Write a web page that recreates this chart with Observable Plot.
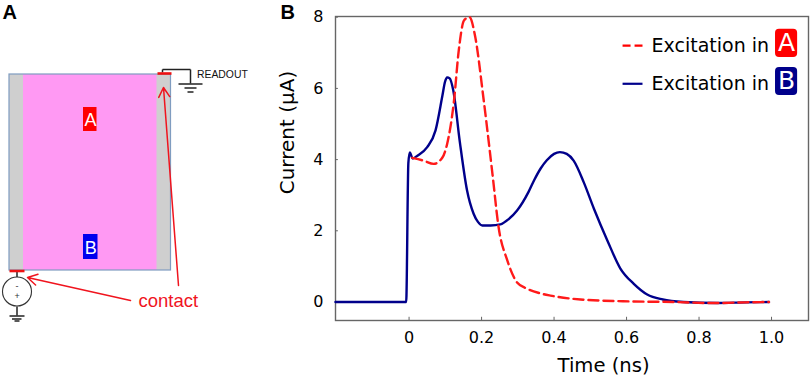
<!DOCTYPE html>
<html>
<head>
<meta charset="utf-8">
<script src="https://cdn.jsdelivr.net/npm/d3@7"></script>
<script src="https://cdn.jsdelivr.net/npm/@observablehq/plot@0.6"></script>
<style>
html,body{margin:0;padding:0;background:#fff}
#fig{position:relative;width:810px;height:376px;overflow:hidden}
#fig>div,#fig>svg{position:absolute;left:0;top:0}
</style>
</head>
<body>
<div id="fig"></div>
<script>
// Panel B series (time in ns, current in µA)
const timeB = [-0.203,-0.1,-0.008,-0.002,0.002,0.01,0.023,0.05,0.073,0.092,0.099,0.105,0.112,0.122,0.14,0.16,0.178,0.19,0.202,0.225,0.252,0.275,0.298,0.33,0.345,0.363,0.38,0.4,0.416,0.435,0.454,0.482,0.51,0.547,0.583,0.62,0.657,0.70,0.757,0.85,0.93,0.993];
const currentB = [0,0,0,3.9,4.2,4.03,4.11,4.35,4.82,5.8,6.18,6.31,6.28,5.94,4.5,3.13,2.48,2.25,2.15,2.15,2.18,2.33,2.57,3.1,3.42,3.75,3.98,4.16,4.21,4.16,3.97,3.36,2.62,1.73,0.94,0.51,0.21,0.07,0,-0.03,-0.01,0];
const timeA = [0.009,0.04,0.068,0.092,0.105,0.124,0.137,0.151,0.16,0.167,0.181,0.206,0.23,0.247,0.271,0.298,0.326,0.363,0.39,0.473,0.59,0.73,0.84,0.93,0.993];
const currentA = [4.05,3.97,3.88,4.06,4.44,5.66,7.06,7.9,7.98,8.0,7.53,5.66,3.6,2.1,1.17,0.55,0.37,0.24,0.18,0.07,0.02,0,-0.03,-0.01,0];
const xTicks = [0,0.2,0.4,0.6,0.8,1.0];
const yTicks = [0,2,4,6,8];
const legendLabels = ["Excitation in","Excitation in"];
const legendBadges = ["A","B"];
const seriesA = timeA.map((t,i)=>({t,v:currentA[i]}));
const seriesB = timeB.map((t,i)=>({t,v:currentB[i]}));

// Panel A schematic, in its own drawing units
const regionRects = [[9,170.5,74,270,"#ff99f3"],[9,23,74,270,"#cfcfcf"],[156.5,170.5,74,270,"#cfcfcf"]];
const badgeRects = [[83,96.5,107,131,"#ff0000","A",90,120],[83,97.5,234,259,"#0000ee","B",90.3,247.5]];
const wires = [[162,72,162,69],[162,69,190,69],[190,69,190,83],[178,83.5,202,83.5],[184,87.5,196,87.5],[187,91.5,193,91.5],
               [16.5,271,16.5,277],[16.5,306,16.5,315],[9,315.5,24,315.5],[11.5,318.5,21,318.5],[14,320.5,19,320.5]];
const contacts = [[9,24,270.5],[157,171,73]];
const arrows = [[178,285,163,87],[130,300,27,277]];

const FONT = "'DejaVu Sans', Verdana, sans-serif";
const SANS = "'Liberation Sans',Arial,sans-serif";
const fig = document.getElementById("fig");

const A = Plot.plot({
  width:270,height:376,margin:0,
  style:{background:"transparent",overflow:"visible"},
  x:{domain:[0,270],range:[0,270],axis:null},
  y:{domain:[0,376],range:[0,376],axis:null},
  marks:[
    Plot.rect(regionRects,{x1:d=>d[0],x2:d=>d[1],y1:d=>d[2],y2:d=>d[3],fill:d=>d[4]}),
    Plot.rect([regionRects[0]],{x1:d=>d[0],x2:d=>d[1],y1:d=>d[2],y2:d=>d[3],fill:"none",stroke:"#7f9cc0",strokeWidth:1.2}),
    Plot.rect(badgeRects,{x1:d=>d[0],x2:d=>d[1],y1:d=>d[2],y2:d=>d[3],fill:d=>d[4]}),
    Plot.text(badgeRects,{x:d=>d[6],y:d=>d[7],text:d=>d[5],fill:"white",fontSize:18,fontFamily:SANS}),
    Plot.link(wires,{x1:d=>d[0],y1:d=>d[1],x2:d=>d[2],y2:d=>d[3],stroke:"#222",strokeWidth:1.5}),
    Plot.dot([[16.5,291]],{x:d=>d[0],y:d=>d[1],r:14.5,stroke:"#333",fill:"white",strokeWidth:1.1}),
    Plot.text([[16.5,286,"-"],[16.5,296,"+"]],{x:d=>d[0],y:d=>d[1],text:d=>d[2],fontSize:9,fill:"#333",fontFamily:SANS}),
    Plot.link(contacts,{x1:d=>d[0],x2:d=>d[1],y1:d=>d[2],y2:d=>d[2],stroke:"#ee1111",strokeWidth:2.6}),
    Plot.arrow(arrows,{x1:d=>d[0],y1:d=>d[1],x2:d=>d[2],y2:d=>d[3],stroke:"#f0141e",strokeWidth:1.5,headLength:11,bend:0}),
    Plot.text([[196.5,74.5,"READOUT"]],{x:d=>d[0],y:d=>d[1],text:d=>d[2],textAnchor:"start",fontSize:10.4,fill:"#111",fontFamily:SANS}),
    Plot.text([[138,301,"contact"]],{x:d=>d[0],y:d=>d[1],text:d=>d[2],textAnchor:"start",fontSize:18.5,fill:"#f0141e",fontFamily:SANS}),
    Plot.text([[2,12,"A"]],{x:d=>d[0],y:d=>d[1],text:d=>d[2],textAnchor:"start",fontSize:20,fontWeight:"bold",fill:"#000",fontFamily:SANS})
  ]
});

const legendRows = legendLabels.map((label,i)=>({label,badge:legendBadges[i],y:[7.2,6.13][i],y1:[7.66,6.59][i],y2:[6.87,5.8][i],color:["#ff0000","#00008b"][i]}));

const B = Plot.plot({
  width:810,height:376,marginLeft:335,marginRight:2,marginTop:16,marginBottom:56,
  style:{background:"transparent",overflow:"visible",fontFamily:FONT,color:"#000"},
  x:{domain:[-0.203,1.102]},
  y:{domain:[-0.52,8.02]},
  marks:[
    Plot.frame({stroke:"#666",strokeWidth:1.4}),
    Plot.ruleX(xTicks,{y1:-0.52,y2:-0.43,stroke:"#666",strokeWidth:1}),
    Plot.ruleY(yTicks,{x1:-0.203,x2:-0.195,stroke:"#666",strokeWidth:1}),
    Plot.axisX({ticks:xTicks,tickSize:0,tickPadding:11,tickFormat:d=>d===0?"0":d.toFixed(1),fontSize:16,label:null,fontFamily:FONT}),
    Plot.axisY({ticks:yTicks,tickSize:0,tickPadding:12,fontSize:16,label:null,fontFamily:FONT}),
    Plot.line(seriesB,{x:"t",y:"v",stroke:"#00008b",strokeWidth:2.4,curve:"monotone-x"}),
    Plot.line(seriesA,{x:"t",y:"v",stroke:"#ff1a1a",strokeWidth:2.4,strokeDasharray:"10,5",curve:"monotone-x"}),
    Plot.text(["Time (ns)"],{x:0.5366,y:-1.79,text:d=>d,fontSize:19.6,fontFamily:FONT,fill:"#000"}),
    Plot.text(["Current (µA)"],{x:-0.335,y:4.76,text:d=>d,rotate:-90,fontSize:20,fontFamily:FONT,fill:"#000"}),
    Plot.link(legendRows.slice(0,1),{x1:0.589,x2:0.644,y1:"y",y2:"y",stroke:"color",strokeWidth:2.2,strokeDasharray:"8,4"}),
    Plot.link(legendRows.slice(1),{x1:0.589,x2:0.644,y1:"y",y2:"y",stroke:"color",strokeWidth:2.2}),
    Plot.text(legendRows,{x:0.669,y:"y",text:"label",textAnchor:"start",fontSize:19,fontFamily:FONT,fill:"#000"}),
    Plot.rect(legendRows,{x1:1.011,x2:1.072,y1:"y1",y2:"y2",fill:"color",rx:4}),
    Plot.text(legendRows,{x:1.0415,y:d=>(d.y1+d.y2)/2,text:"badge",fill:"white",fontSize:25,fontFamily:FONT}),
    Plot.text(["B"],{x:-0.335,y:8.14,text:d=>d,fontSize:20,fontWeight:"bold",fontFamily:SANS,fill:"#000"})
  ]
});
fig.append(A,B);
</script>
</body>
</html>
